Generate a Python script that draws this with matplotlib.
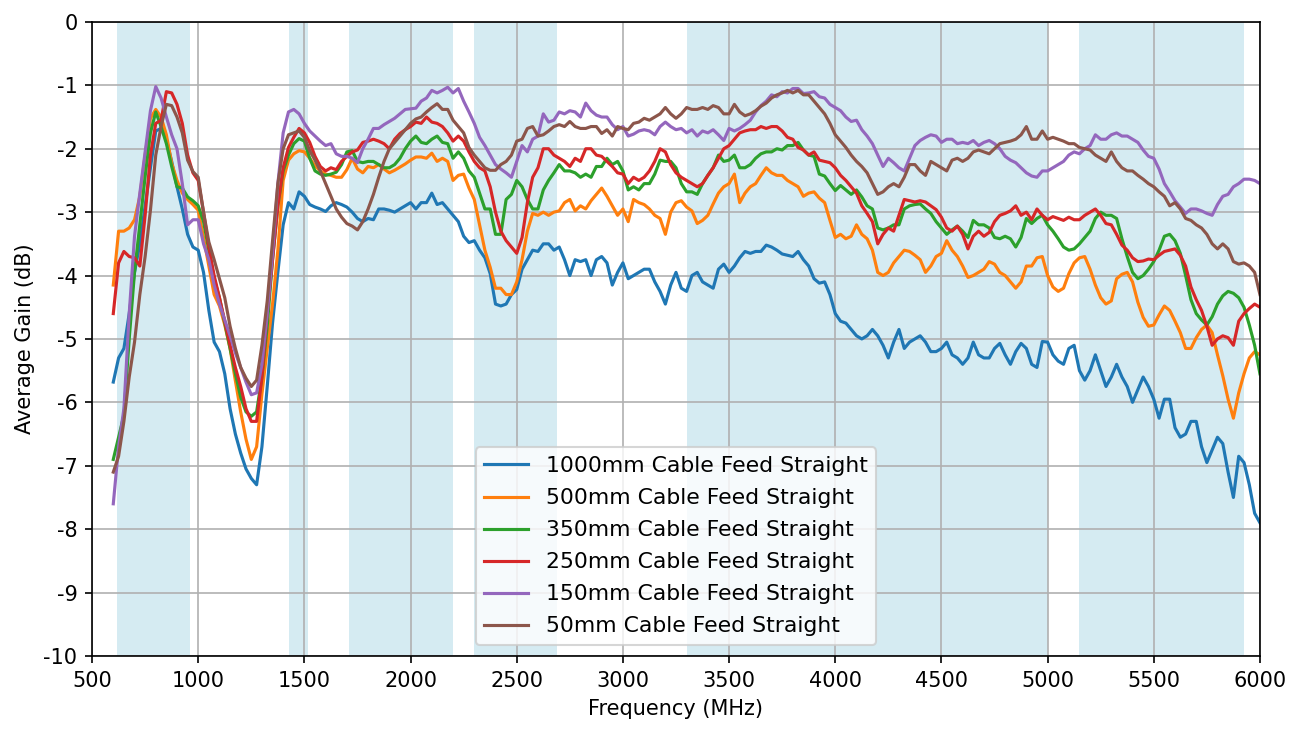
#!/usr/bin/env python3
"""
Average gain vs frequency for the straight cable-feed lengths.
"""

import matplotlib
matplotlib.use("Agg")
import matplotlib.pyplot as plt

# Frequency points (MHz), one row per 500 MHz
freq_mhz = [
    600, 625, 650, 675, 700, 725, 750, 775, 800, 825, 850, 875, 900, 925, 950, 975,
    1000, 1025, 1050, 1075, 1100, 1125, 1150, 1175, 1200, 1225, 1250, 1275, 1300, 1325, 1350, 1375, 1400, 1425, 1450, 1475,
    1500, 1525, 1550, 1575, 1600, 1625, 1650, 1675, 1700, 1725, 1750, 1775, 1800, 1825, 1850, 1875, 1900, 1925, 1950, 1975,
    2000, 2025, 2050, 2075, 2100, 2125, 2150, 2175, 2200, 2225, 2250, 2275, 2300, 2325, 2350, 2375, 2400, 2425, 2450, 2475,
    2500, 2525, 2550, 2575, 2600, 2625, 2650, 2675, 2700, 2725, 2750, 2775, 2800, 2825, 2850, 2875, 2900, 2925, 2950, 2975,
    3000, 3025, 3050, 3075, 3100, 3125, 3150, 3175, 3200, 3225, 3250, 3275, 3300, 3325, 3350, 3375, 3400, 3425, 3450, 3475,
    3500, 3525, 3550, 3575, 3600, 3625, 3650, 3675, 3700, 3725, 3750, 3775, 3800, 3825, 3850, 3875, 3900, 3925, 3950, 3975,
    4000, 4025, 4050, 4075, 4100, 4125, 4150, 4175, 4200, 4225, 4250, 4275, 4300, 4325, 4350, 4375, 4400, 4425, 4450, 4475,
    4500, 4525, 4550, 4575, 4600, 4625, 4650, 4675, 4700, 4725, 4750, 4775, 4800, 4825, 4850, 4875, 4900, 4925, 4950, 4975,
    5000, 5025, 5050, 5075, 5100, 5125, 5150, 5175, 5200, 5225, 5250, 5275, 5300, 5325, 5350, 5375, 5400, 5425, 5450, 5475,
    5500, 5525, 5550, 5575, 5600, 5625, 5650, 5675, 5700, 5725, 5750, 5775, 5800, 5825, 5850, 5875, 5900, 5925, 5950, 5975,
    6000,
]

gain_1000mm = [
    -5.68, -5.30, -5.15, -4.60, -3.95, -3.50, -2.90, -2.30, -1.72, -1.68, -1.85, -2.20, -2.60, -2.95, -3.35, -3.55,
    -3.60, -3.95, -4.55, -5.05, -5.20, -5.55, -6.10, -6.50, -6.80, -7.05, -7.20, -7.30, -6.70, -5.75, -4.75, -3.95, -3.20, -2.85, -2.95, -2.68,
    -2.75, -2.88, -2.92, -2.95, -2.99, -2.90, -2.85, -2.88, -2.92, -3.00, -3.10, -3.15, -3.10, -3.12, -2.95, -2.95, -2.97, -3.00, -2.95, -2.90,
    -2.85, -2.95, -2.85, -2.85, -2.70, -2.88, -2.85, -2.95, -3.05, -3.15, -3.38, -3.48, -3.45, -3.60, -3.72, -3.97, -4.45, -4.48, -4.45, -4.30,
    -4.22, -3.90, -3.75, -3.60, -3.62, -3.50, -3.50, -3.60, -3.55, -3.75, -4.00, -3.75, -3.78, -3.75, -4.00, -3.75, -3.70, -3.80, -4.15, -3.95,
    -3.80, -4.05, -4.00, -3.95, -3.90, -3.90, -4.10, -4.25, -4.45, -4.15, -3.95, -4.20, -4.25, -4.00, -3.95, -4.10, -4.15, -4.20, -3.90, -3.82,
    -3.95, -3.85, -3.72, -3.62, -3.65, -3.62, -3.62, -3.52, -3.55, -3.60, -3.66, -3.68, -3.70, -3.62, -3.75, -3.85, -4.05, -4.12, -4.10, -4.30,
    -4.60, -4.72, -4.75, -4.85, -4.95, -5.00, -4.95, -4.85, -4.95, -5.10, -5.30, -5.05, -4.85, -5.15, -5.05, -5.00, -4.95, -5.05, -5.20, -5.20,
    -5.15, -5.05, -5.25, -5.30, -5.40, -5.30, -5.05, -5.25, -5.30, -5.30, -5.15, -5.07, -5.25, -5.40, -5.20, -5.07, -5.15, -5.40, -5.45, -5.04,
    -5.05, -5.25, -5.35, -5.40, -5.15, -5.10, -5.50, -5.65, -5.50, -5.25, -5.50, -5.75, -5.60, -5.40, -5.60, -5.75, -6.00, -5.80, -5.60, -5.75,
    -5.95, -6.25, -5.95, -5.95, -6.40, -6.55, -6.50, -6.30, -6.30, -6.70, -6.95, -6.75, -6.55, -6.65, -7.10, -7.50, -6.85, -6.95, -7.30, -7.75,
    -7.90,
]

gain_500mm = [
    -4.15, -3.30, -3.30, -3.25, -3.12, -2.75, -2.10, -1.52, -1.38, -1.50, -1.78, -2.23, -2.50, -2.70, -2.80, -2.88,
    -2.97, -3.40, -3.85, -4.30, -4.48, -4.78, -5.15, -5.66, -6.15, -6.58, -6.90, -6.70, -5.87, -5.15, -4.45, -3.60, -2.50, -2.18, -2.08, -2.03,
    -2.05, -2.15, -2.27, -2.35, -2.40, -2.42, -2.45, -2.45, -2.33, -2.15, -2.32, -2.38, -2.28, -2.30, -2.25, -2.32, -2.38, -2.34, -2.29, -2.24,
    -2.18, -2.13, -2.13, -2.15, -2.07, -2.20, -2.15, -2.20, -2.50, -2.42, -2.40, -2.62, -2.80, -3.20, -3.60, -3.87, -4.20, -4.20, -4.30, -4.30,
    -4.10, -3.75, -3.30, -3.02, -3.05, -3.00, -3.05, -3.00, -2.98, -2.85, -2.80, -2.98, -2.90, -2.95, -2.82, -2.72, -2.62, -2.75, -2.90, -3.05,
    -2.95, -3.15, -2.80, -2.85, -2.88, -2.95, -3.05, -3.10, -3.35, -3.00, -2.85, -2.82, -2.92, -2.98, -3.18, -3.13, -3.05, -2.87, -2.70, -2.60,
    -2.55, -2.40, -2.85, -2.70, -2.60, -2.55, -2.42, -2.30, -2.38, -2.42, -2.42, -2.50, -2.55, -2.60, -2.75, -2.70, -2.68, -2.78, -2.85, -3.13,
    -3.40, -3.35, -3.42, -3.38, -3.20, -3.35, -3.42, -3.60, -3.95, -4.00, -3.95, -3.80, -3.70, -3.60, -3.62, -3.68, -3.75, -3.95, -3.85, -3.70,
    -3.65, -3.45, -3.60, -3.70, -3.85, -4.03, -4.00, -3.95, -3.90, -3.78, -3.82, -3.95, -4.00, -4.10, -4.20, -4.10, -3.85, -3.85, -3.72, -3.70,
    -4.00, -4.18, -4.25, -4.20, -3.97, -3.80, -3.72, -3.70, -3.90, -4.15, -4.35, -4.45, -4.40, -4.05, -3.98, -3.95, -4.10, -4.42, -4.66, -4.80,
    -4.78, -4.62, -4.48, -4.55, -4.72, -4.90, -5.15, -5.15, -4.98, -4.85, -4.78, -4.90, -5.25, -5.58, -5.95, -6.25, -5.85, -5.55, -5.30, -5.20,
    -5.25,
]

gain_350mm = [
    -6.90, -6.55, -6.20, -5.00, -3.95, -3.20, -2.44, -1.75, -1.42, -1.65, -1.92, -2.28, -2.60, -2.62, -2.76, -2.82,
    -2.90, -3.15, -3.60, -4.05, -4.35, -4.75, -5.15, -5.55, -5.92, -6.15, -6.22, -6.15, -5.60, -4.80, -3.75, -2.90, -2.35, -2.10, -1.92, -1.84,
    -1.88, -2.15, -2.35, -2.40, -2.42, -2.40, -2.37, -2.25, -2.05, -2.03, -2.20, -2.22, -2.20, -2.20, -2.25, -2.30, -2.30, -2.25, -2.15, -2.00,
    -1.88, -1.80, -1.90, -1.92, -1.85, -1.80, -1.90, -1.92, -2.15, -2.05, -2.15, -2.35, -2.45, -2.70, -2.95, -2.95, -3.35, -3.35, -2.80, -2.72,
    -2.50, -2.60, -2.80, -2.95, -2.95, -2.65, -2.50, -2.38, -2.25, -2.35, -2.35, -2.38, -2.45, -2.40, -2.45, -2.28, -2.28, -2.15, -2.25, -2.20,
    -2.35, -2.65, -2.60, -2.65, -2.55, -2.55, -2.40, -2.18, -2.20, -2.20, -2.30, -2.55, -2.68, -2.68, -2.72, -2.55, -2.42, -2.30, -2.10, -2.20,
    -2.18, -2.10, -2.30, -2.30, -2.25, -2.15, -2.08, -2.05, -2.05, -2.00, -2.02, -1.95, -1.95, -1.90, -2.02, -2.10, -2.12, -2.40, -2.43, -2.55,
    -2.66, -2.58, -2.65, -2.72, -2.65, -2.76, -2.90, -2.95, -3.25, -3.28, -3.25, -3.20, -3.20, -2.95, -2.90, -2.88, -2.87, -2.95, -3.02, -3.15,
    -3.25, -3.35, -3.28, -3.22, -3.30, -3.40, -3.13, -3.20, -3.20, -3.25, -3.40, -3.42, -3.38, -3.42, -3.55, -3.40, -3.10, -3.18, -3.10, -3.05,
    -3.20, -3.30, -3.42, -3.55, -3.60, -3.58, -3.50, -3.40, -3.30, -3.10, -3.00, -3.05, -3.05, -3.10, -3.42, -3.70, -3.95, -4.05, -4.00, -3.90,
    -3.78, -3.60, -3.38, -3.35, -3.45, -3.65, -4.00, -4.38, -4.60, -4.70, -4.78, -4.65, -4.45, -4.32, -4.25, -4.28, -4.35, -4.50, -4.78, -5.10,
    -5.55,
]

gain_250mm = [
    -4.60, -3.80, -3.62, -3.70, -3.72, -3.85, -3.05, -2.10, -1.60, -1.55, -1.10, -1.12, -1.30, -1.60, -2.10, -2.38,
    -2.50, -3.00, -3.55, -4.00, -4.35, -4.72, -5.10, -5.45, -5.75, -6.10, -6.30, -6.30, -5.60, -4.60, -3.75, -2.90, -2.30, -1.98, -1.82, -1.68,
    -1.75, -1.90, -2.12, -2.28, -2.35, -2.30, -2.33, -2.20, -2.12, -2.05, -2.02, -1.90, -1.88, -1.85, -1.88, -1.92, -2.00, -1.85, -1.76, -1.70,
    -1.65, -1.58, -1.60, -1.50, -1.58, -1.60, -1.65, -1.75, -1.88, -1.80, -1.88, -2.05, -2.20, -2.30, -2.35, -2.60, -3.00, -3.30, -3.45, -3.55,
    -3.65, -3.40, -2.85, -2.45, -2.30, -2.00, -2.00, -2.10, -2.15, -2.20, -2.28, -2.15, -2.20, -2.00, -2.00, -2.10, -2.12, -2.20, -2.28, -2.38,
    -2.40, -2.55, -2.45, -2.50, -2.45, -2.35, -2.20, -2.00, -2.05, -2.25, -2.38, -2.45, -2.50, -2.55, -2.60, -2.55, -2.42, -2.30, -2.15, -2.00,
    -1.95, -1.85, -1.75, -1.72, -1.70, -1.70, -1.65, -1.68, -1.65, -1.65, -1.72, -1.82, -1.85, -1.98, -2.02, -2.10, -2.05, -2.18, -2.20, -2.22,
    -2.30, -2.42, -2.50, -2.60, -2.70, -2.90, -3.02, -3.15, -3.50, -3.35, -3.25, -3.30, -3.05, -2.80, -2.82, -2.84, -2.82, -2.84, -2.90, -2.96,
    -3.08, -3.25, -3.30, -3.22, -3.35, -3.58, -3.38, -3.30, -3.38, -3.32, -3.15, -3.05, -3.02, -2.98, -2.90, -3.05, -3.00, -3.12, -2.95, -3.05,
    -3.12, -3.07, -3.10, -3.13, -3.08, -3.12, -3.12, -3.05, -3.00, -2.95, -3.05, -3.18, -3.20, -3.35, -3.52, -3.60, -3.72, -3.78, -3.77, -3.74,
    -3.75, -3.68, -3.62, -3.60, -3.58, -3.68, -3.85, -4.18, -4.38, -4.55, -4.80, -5.10, -5.00, -4.95, -4.98, -5.10, -4.72, -4.60, -4.52, -4.45,
    -4.50,
]

gain_150mm = [
    -7.60, -6.70, -6.10, -4.60, -3.38, -2.70, -2.05, -1.40, -1.02, -1.20, -1.50, -1.78, -2.00, -2.55, -3.20, -3.12,
    -3.12, -3.50, -3.75, -4.15, -4.45, -4.70, -4.95, -5.22, -5.45, -5.68, -5.88, -5.85, -5.40, -4.60, -3.65, -2.55, -1.75, -1.42, -1.38, -1.45,
    -1.60, -1.72, -1.80, -1.88, -1.95, -1.92, -2.08, -2.12, -2.12, -2.15, -2.22, -2.00, -1.85, -1.68, -1.68, -1.62, -1.57, -1.52, -1.45, -1.38,
    -1.37, -1.36, -1.25, -1.20, -1.08, -1.12, -1.08, -1.03, -1.12, -1.05, -1.25, -1.42, -1.60, -1.82, -1.95, -2.10, -2.25, -2.32, -2.38, -2.45,
    -2.20, -1.95, -2.05, -1.85, -1.80, -1.45, -1.58, -1.55, -1.42, -1.45, -1.40, -1.42, -1.50, -1.28, -1.40, -1.47, -1.50, -1.50, -1.62, -1.70,
    -1.65, -1.80, -1.77, -1.72, -1.70, -1.72, -1.78, -1.65, -1.58, -1.65, -1.70, -1.68, -1.75, -1.70, -1.80, -1.72, -1.75, -1.70, -1.78, -1.87,
    -1.68, -1.72, -1.68, -1.62, -1.55, -1.42, -1.32, -1.25, -1.15, -1.18, -1.10, -1.12, -1.05, -1.05, -1.13, -1.12, -1.10, -1.18, -1.20, -1.30,
    -1.35, -1.40, -1.50, -1.57, -1.55, -1.70, -1.80, -1.92, -2.10, -2.28, -2.15, -2.22, -2.30, -2.35, -2.15, -1.95, -1.87, -1.82, -1.78, -1.80,
    -1.90, -1.85, -1.85, -1.92, -1.90, -1.92, -1.87, -1.95, -1.90, -1.87, -1.92, -2.00, -2.12, -2.18, -2.22, -2.30, -2.38, -2.43, -2.45, -2.35,
    -2.35, -2.30, -2.25, -2.20, -2.10, -2.05, -2.08, -2.00, -1.95, -1.78, -1.85, -1.85, -1.78, -1.75, -1.80, -1.80, -1.85, -1.90, -2.02, -2.12,
    -2.15, -2.32, -2.55, -2.68, -2.82, -2.92, -3.02, -2.95, -2.95, -2.98, -3.02, -3.05, -2.88, -2.75, -2.72, -2.60, -2.55, -2.48, -2.48, -2.50,
    -2.55,
]

gain_50mm = [
    -7.10, -6.85, -6.30, -5.60, -5.05, -4.30, -3.70, -2.97, -2.10, -1.65, -1.30, -1.32, -1.50, -1.75, -2.18, -2.36,
    -2.45, -3.00, -3.47, -3.75, -4.05, -4.35, -4.80, -5.15, -5.45, -5.62, -5.75, -5.65, -5.10, -4.40, -3.45, -2.55, -2.00, -1.78, -1.75, -1.72,
    -1.82, -2.03, -2.18, -2.35, -2.55, -2.75, -2.95, -3.08, -3.18, -3.22, -3.28, -3.15, -2.95, -2.72, -2.45, -2.20, -2.00, -1.90, -1.80, -1.70,
    -1.60, -1.53, -1.50, -1.42, -1.35, -1.29, -1.38, -1.38, -1.55, -1.65, -1.75, -1.98, -2.10, -2.20, -2.30, -2.34, -2.34, -2.25, -2.20, -2.10,
    -1.88, -1.85, -1.68, -1.65, -1.80, -1.78, -1.72, -1.65, -1.62, -1.65, -1.57, -1.65, -1.68, -1.68, -1.65, -1.65, -1.76, -1.70, -1.80, -1.65,
    -1.68, -1.70, -1.60, -1.58, -1.52, -1.55, -1.50, -1.45, -1.35, -1.45, -1.52, -1.45, -1.35, -1.38, -1.38, -1.35, -1.38, -1.32, -1.35, -1.45,
    -1.45, -1.30, -1.42, -1.48, -1.45, -1.40, -1.33, -1.28, -1.20, -1.15, -1.12, -1.08, -1.12, -1.08, -1.15, -1.15, -1.25, -1.35, -1.45, -1.60,
    -1.78, -1.88, -1.98, -2.10, -2.20, -2.28, -2.38, -2.55, -2.72, -2.68, -2.60, -2.55, -2.60, -2.45, -2.25, -2.25, -2.35, -2.42, -2.20, -2.25,
    -2.30, -2.35, -2.18, -2.15, -2.20, -2.15, -2.05, -2.02, -2.05, -2.08, -2.00, -1.92, -1.90, -1.88, -1.85, -1.78, -1.65, -1.85, -1.85, -1.72,
    -1.85, -1.82, -1.85, -1.88, -1.92, -1.92, -1.98, -2.00, -2.02, -2.10, -2.15, -2.20, -2.05, -2.20, -2.30, -2.35, -2.35, -2.42, -2.48, -2.55,
    -2.60, -2.68, -2.75, -2.90, -2.85, -2.95, -3.10, -3.13, -3.20, -3.25, -3.35, -3.50, -3.58, -3.50, -3.58, -3.78, -3.82, -3.80, -3.85, -3.95,
    -4.30,
]

series_labels = [
    "1000mm Cable Feed Straight",
    "500mm Cable Feed Straight",
    "350mm Cable Feed Straight",
    "250mm Cable Feed Straight",
    "150mm Cable Feed Straight",
    "50mm Cable Feed Straight",
]

# Shaded frequency bands (MHz)
band_start = [617, 1427, 1710, 2300, 3300, 5150]
band_stop = [960, 1518, 2200, 2690, 5000, 5925]


def make_plot():
    """Draw gain curves over the shaded bands and save to out.png."""
    plt.rcParams["axes.unicode_minus"] = False
    plt.rcParams["font.size"] = 10

    fig = plt.figure(figsize=(8.68, 4.867), dpi=150)
    ax = fig.add_axes([0.0707, 0.1014, 0.8970, 0.8685])

    # background bands first so the grid and curves sit on top
    for lo, hi in zip(band_start, band_stop):
        ax.axvspan(lo, hi, color="lightblue", alpha=0.5, linewidth=0)

    all_gains = [gain_1000mm, gain_500mm, gain_350mm, gain_250mm, gain_150mm, gain_50mm]
    for gains, label in zip(all_gains, series_labels):
        ax.plot(freq_mhz, gains, linewidth=1.5, label=label)

    ax.set_xlim(500, 6000)
    ax.set_ylim(-10, 0)
    ax.set_xticks(range(500, 6001, 500))
    ax.set_yticks(range(-10, 1))
    ax.set_xlabel("Frequency (MHz)")
    ax.set_ylabel("Average Gain (dB)")
    ax.grid(True)
    ax.legend(loc="lower center", fontsize=10.5, labelspacing=0.55)

    fig.savefig("out.png", dpi=150)
    print("Saved out.png")


if __name__ == "__main__":
    make_plot()
